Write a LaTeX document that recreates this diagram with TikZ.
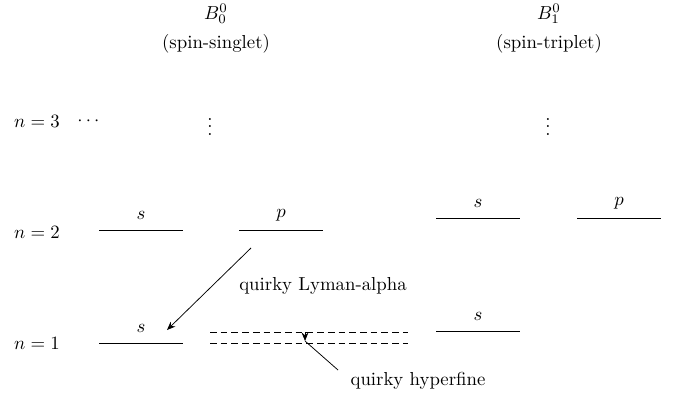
\documentclass[tikz,border=0pt]{standalone}
\usepackage{amsmath,amssymb}
\usepackage{tikz}
\usetikzlibrary{arrows.meta, positioning, calc}

\tikzset{
  level/.style={line width=0.5pt},
  hflevel/.style={line width=0.45pt, dash pattern=on 3.6pt off 2.1pt},
  trans/.style={line width=0.4pt, -{Stealth[length=4.5pt,width=3.6pt]}},
  tag/.style={line width=0.4pt}
}

\begin{document}
\begin{tikzpicture}[x=0.0187cm,y=-0.0187cm]
  \useasboundingbox (0,0) rectangle (681,396);
  % column headings
  \node (singlet) at (216,14) {$B_0^0$};
  \node (singletlab) at (216,44) {(spin-singlet)};
  \node (triplet) at (549,14) {$B_1^0$};
  \node (tripletlab) at (549,44) {(spin-triplet)};
  % principal quantum numbers
  \node (n3) at (37,121) {$n=3$};
  \node (n3dots) at (90,121) {$\cdots$};
  \node (n2) at (37,232) {$n=2$};
  \node (n1) at (37,343) {$n=1$};
  \node (vdotsA) at (210,121) {$\vdots$};
  \node (vdotsB) at (548,121) {$\vdots$};
  % energy levels: name / left end / height / orbital
  \foreach \name/\xa/\y/\orb in {
    s2a/99/230/s,
    p2a/239/230/p,
    s2b/436/218/s,
    p2b/577/218/p,
    s1a/99/343/s,
    s1b/436/331/s
  }{
    \draw[level] (\xa,\y) coordinate (\name-l) -- ++(84,0) coordinate (\name-r);
    \node (\name) at (\xa+42,\y-15) {$\orb$};
  }
  % hyperfine split ground state
  \draw[hflevel] (210,332) coordinate (hfup-l) -- (408,332) coordinate (hfup-r);
  \draw[hflevel] (210,343) coordinate (hflo-l) -- (408,343) coordinate (hflo-r);
  % transitions
  \coordinate (lyA) at (251,248);
  \coordinate (lyB) at (167,330);
  \draw[trans] (lyA) -- (lyB);
  \node (lyman) at (323,286) {quirky Lyman-alpha};
  \coordinate (hfA) at (305,332);
  \coordinate (hfB) at (305,341);
  \draw[trans] (hfA) -- (hfB);
  \node (hyper) at (418,381) {quirky hyperfine};
  \coordinate (hfC) at (338,370);
  \draw[tag] (hfB) -- (hfC);
\end{tikzpicture}
\end{document}
